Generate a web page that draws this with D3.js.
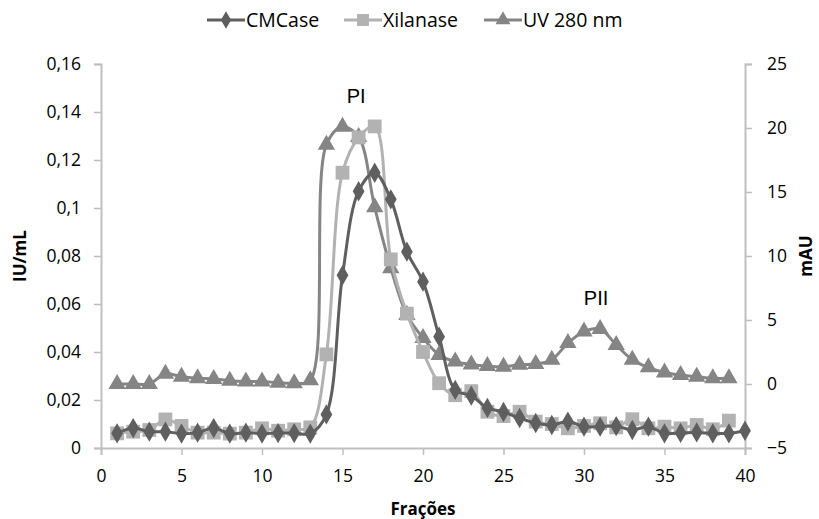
<!DOCTYPE html>
<html>
<head>
<meta charset="utf-8">
<script src="https://cdn.jsdelivr.net/npm/d3@7"></script>
<style>
  body { margin: 0; background: #fff; }
  svg { display: block; font-family: "Open Sans", "Noto Sans", sans-serif; }
</style>
</head>
<body>
<div id="wrapper"></div>
<script>
// dados
const fractions = d3.range(1, 41)
const cmcase = [0.0061, 0.0083, 0.0068, 0.0068, 0.0060, 0.0064, 0.0083, 0.0060, 0.0064, 0.0060,
                0.0062, 0.0062, 0.0060, 0.0140, 0.0720, 0.1070, 0.1147, 0.1036, 0.0818, 0.0693,
                0.0464, 0.0242, 0.0218, 0.0167, 0.0150, 0.0125, 0.0104, 0.0096, 0.0110, 0.0089,
                0.0089, 0.0091, 0.0075, 0.0089, 0.0061, 0.0063, 0.0065, 0.0061, 0.0061, 0.0072]
const xilanase = [0.0061, 0.0068, 0.0075, 0.0119, 0.0092, 0.0064, 0.0064, 0.0060, 0.0064, 0.0082,
                  0.0072, 0.0078, 0.0086, 0.0390, 0.1147, 0.1294, 0.1340, 0.0786, 0.0560, 0.0400,
                  0.0270, 0.0220, 0.0237, 0.0151, 0.0133, 0.0151, 0.0110, 0.0100, 0.0082, 0.0092,
                  0.0103, 0.0086, 0.0120, 0.0082, 0.0089, 0.0082, 0.0096, 0.0078, 0.0114]
const uv280 = [0.0, 0.0, 0.0, 0.8, 0.57, 0.45, 0.4, 0.26, 0.2, 0.2,
               0.1, 0.05, 0.3, 18.7, 20.1, 19.3, 13.8, 9.05, 5.4, 3.6,
               2.27, 1.75, 1.53, 1.4, 1.35, 1.5, 1.56, 1.9, 3.2, 4.1,
               4.3, 3.05, 1.9, 1.3, 0.9, 0.7, 0.57, 0.44, 0.44]
const xTicks = [0, 5, 10, 15, 20, 25, 30, 35, 40]
const yLeftTicks = [0, 0.02, 0.04, 0.06, 0.08, 0.1, 0.12, 0.14, 0.16]
const yRightTicks = [-5, 0, 5, 10, 15, 20, 25]
const peakLabels = [{ label: "PI", x: 15.85, y: 21.95 }, { label: "PII", x: 30.75, y: 6.17 }]

const dimensions = {
    width: 819,
    height: 519,
    margin: { top: 64, right: 74, bottom: 71, left: 101 },
}
dimensions.boundedWidth = dimensions.width - dimensions.margin.left - dimensions.margin.right
dimensions.boundedHeight = dimensions.height - dimensions.margin.top - dimensions.margin.bottom

const colors = { cm: "#5f5f5f", xil: "#b2b2b2", uv: "#858585", axis: "#bfbfbf" }

const wrapper = d3.select("#wrapper")
    .append("svg")
    .attr("width", dimensions.width)
    .attr("height", dimensions.height)

const bounds = wrapper.append("g")
    .attr("transform", `translate(${dimensions.margin.left},${dimensions.margin.top})`)

// escalas
const xScale = d3.scaleLinear()
    .domain([0, 40])
    .range([0, dimensions.boundedWidth])
const yLeft = d3.scaleLinear()
    .domain([0, 0.16])
    .range([dimensions.boundedHeight, 0])
const yRight = d3.scaleLinear()
    .domain([-5, 25])
    .range([dimensions.boundedHeight, 0])

// eixos
const fmtComma = d => d3.format("")(d).replace(".", ",")
const xAxis = bounds.append("g")
    .attr("transform", `translate(0,${dimensions.boundedHeight})`)
    .call(d3.axisBottom(xScale).tickValues(xTicks).tickSize(7).tickPadding(15))
const yAxisL = bounds.append("g")
    .call(d3.axisLeft(yLeft).tickValues(yLeftTicks).tickSize(7).tickPadding(13).tickFormat(fmtComma))
const yAxisR = bounds.append("g")
    .attr("transform", `translate(${dimensions.boundedWidth},0)`)
    .call(d3.axisRight(yRight).tickValues(yRightTicks).tickSize(7).tickPadding(15))

for (const ax of [xAxis, yAxisL, yAxisR]) {
    ax.select(".domain").attr("stroke", colors.axis).attr("stroke-width", 2)
    ax.selectAll(".tick line").attr("stroke", colors.axis).attr("stroke-width", 1.5)
    ax.selectAll(".tick text").attr("fill", "#000").style("font-size", "17.5px")
        .style("font-family", "'Open Sans', sans-serif")
}
xAxis.selectAll(".tick text").attr("dy", "0.71em")

// títulos
wrapper.append("text")
    .attr("x", dimensions.margin.left + xScale(20))
    .attr("y", 515)
    .attr("text-anchor", "middle")
    .style("font-size", "17px").style("font-weight", "bold")
    .text("Frações")
wrapper.append("text")
    .attr("transform", `translate(26,${dimensions.margin.top + dimensions.boundedHeight / 2}) rotate(-90)`)
    .attr("text-anchor", "middle")
    .style("font-size", "17px").style("font-weight", "bold")
    .text("IU/mL")
wrapper.append("text")
    .attr("transform", `translate(812,${dimensions.margin.top + dimensions.boundedHeight / 2}) rotate(-90)`)
    .attr("text-anchor", "middle")
    .style("font-size", "17px").style("font-weight", "bold")
    .text("mAU")

// séries
const series = [
    { name: "CMCase", values: cmcase, y: yLeft, color: colors.cm, symbol: d3.symbolDiamond, size: 120 },
    { name: "Xilanase", values: xilanase, y: yLeft, color: colors.xil, symbol: d3.symbolSquare, size: 190 },
    { name: "UV 280 nm", values: uv280, y: yRight, color: colors.uv, symbol: d3.symbolTriangle, size: 130 },
]

const drawOrder = [series[2], series[1], series[0]]
drawOrder.forEach(s => {
    const pts = s.values.map((v, i) => ({ x: fractions[i], v }))
    const line = d3.line()
        .x(d => xScale(d.x))
        .y(d => s.y(d.v))
        .curve(d3.curveCatmullRom.alpha(0.5))
    bounds.append("path")
        .attr("d", line(pts))
        .attr("fill", "none")
        .attr("stroke", s.color)
        .attr("stroke-width", 3)
    bounds.append("g").selectAll("path")
        .data(pts)
        .join("path")
        .attr("transform", d => `translate(${xScale(d.x)},${s.y(d.v)})`)
        .attr("d", d3.symbol(s.symbol, s.size))
        .attr("fill", s.color)
})

// rótulos dos picos
bounds.selectAll(".peak")
    .data(peakLabels)
    .join("text")
    .attr("x", d => xScale(d.x))
    .attr("y", d => yRight(d.y))
    .attr("text-anchor", "middle")
    .style("font-family", "'Liberation Sans', Arial, sans-serif")
    .style("font-size", "20px")
    .text(d => d.label)

// legenda
const legendItems = [
    { s: series[0], x: 207 },
    { s: series[1], x: 344 },
    { s: series[2], x: 484 },
]
const legend = wrapper.append("g")
legendItems.forEach(item => {
    const g = legend.append("g").attr("transform", `translate(${item.x},20)`)
    g.append("line").attr("x1", 0).attr("x2", 38)
        .attr("stroke", item.s.color).attr("stroke-width", 3)
    g.append("path").attr("transform", "translate(19,0)")
        .attr("d", d3.symbol(item.s.symbol, item.s.size * 0.75))
        .attr("fill", item.s.color)
    g.append("text").attr("x", 39).attr("dy", "0.35em")
        .style("font-size", "19.5px")
        .text(item.s.name)
})
</script>
</body>
</html>
